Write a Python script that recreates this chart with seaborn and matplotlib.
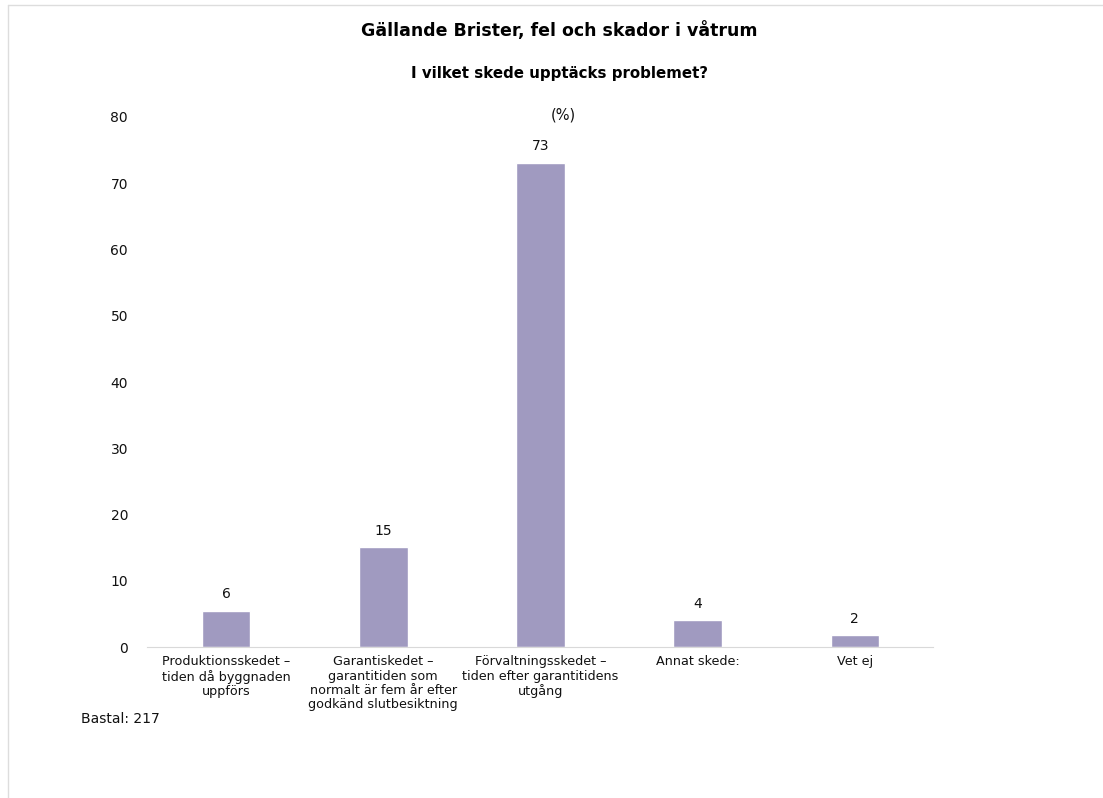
import matplotlib
matplotlib.use("Agg")
import matplotlib.pyplot as plt
from matplotlib.lines import Line2D
import seaborn as sns
import pandas as pd

categories = [
    "Produktionsskedet –\ntiden då byggnaden\nuppförs",
    "Garantiskedet –\ngarantitiden som\nnormalt är fem år efter\ngodkänd slutbesiktning",
    "Förvaltningsskedet –\ntiden efter garantitidens\nutgång",
    "Annat skede:",
    "Vet ej",
]
values = [5.5, 15.1, 73.1, 4.1, 1.8]
labels = ["6", "15", "73", "4", "2"]

sns.set_style("white")
plt.rcParams["font.family"] = ["DejaVu Sans"]

df = pd.DataFrame({"cat": categories, "val": values})

fig = plt.figure(figsize=(11.03, 7.98), dpi=100)
ax = fig.add_axes([0.1337, 0.1892, 0.7126, 0.6642])
sns.barplot(data=df, x="cat", y="val", color="#a09ac0", width=0.31,
            saturation=1, ax=ax)

for p, lab in zip(ax.patches, labels):
    ax.text(p.get_x() + p.get_width() / 2, p.get_height() + 1.4, lab,
            ha="center", va="bottom", fontsize=10, color="#111111")

ax.set_ylim(0, 80)
ax.set_yticks(range(0, 81, 10))
ax.set_xlim(-0.5, 4.5)
ax.set_xlabel("")
ax.set_ylabel("")
ax.tick_params(axis="y", labelsize=10, length=0, pad=14, colors="#111111")
ax.tick_params(axis="x", labelsize=9.2, length=0, pad=6, colors="#111111")
for lab in ax.get_xticklabels():
    lab.set_linespacing(1.12)
for s in ["top", "right", "left"]:
    ax.spines[s].set_visible(False)
ax.spines["bottom"].set_color("#d9d9d9")

fig.text(0.507, 0.962, "Gällande Brister, fel och skador i våtrum",
         ha="center", va="center", fontsize=12.5, fontweight="bold",
         color="black")
fig.text(0.507, 0.908, "I vilket skede upptäcks problemet?",
         ha="center", va="center", fontsize=10.8, fontweight="bold",
         color="black")
fig.text(0.511, 0.856, "(%)", ha="center", va="center", fontsize=10.5,
         color="#111111")
fig.text(0.073, 0.099, "Bastal: 217", ha="left", va="center", fontsize=10,
         color="#111111")

fig.add_artist(Line2D([0.0073, 0.0073], [0, 0.994], color="#dddddd", lw=1,
                      transform=fig.transFigure))
fig.add_artist(Line2D([0.0073, 1.0], [0.994, 0.994], color="#dddddd", lw=1,
                      transform=fig.transFigure))

fig.savefig("out.png", dpi=100)
